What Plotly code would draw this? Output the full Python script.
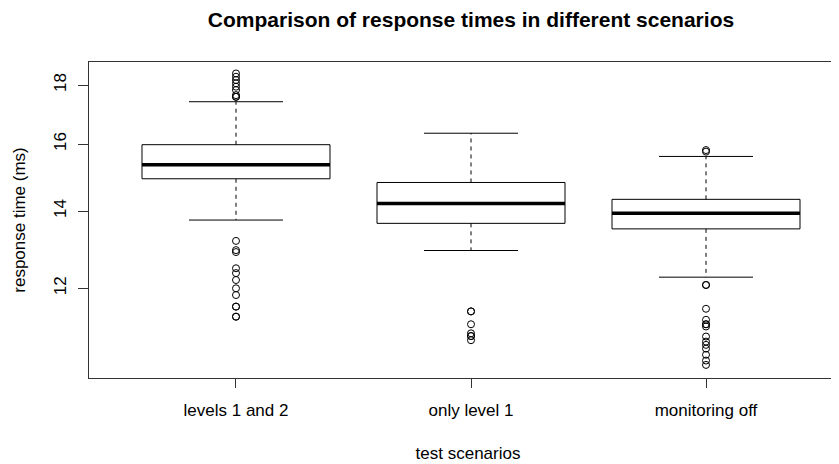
import plotly.graph_objects as go

# ---- data ----
categories = ["levels 1 and 2", "only level 1", "monitoring off"]
q1 = [14.93, 13.66, 13.51]
median = [15.35, 14.21, 13.94]
q3 = [15.98, 14.82, 14.33]
lower_whisker = [13.75, 12.94, 12.27]
upper_whisker = [17.41, 16.35, 15.61]
outliers_levels12 = [18.42, 18.30, 18.18, 18.06, 17.94, 17.82, 17.64, 17.58, 17.58,
                     13.19, 12.95, 12.90, 12.49, 12.37, 12.20, 12.00, 11.84,
                     11.57, 11.57, 11.34, 11.34]
outliers_level1 = [11.46, 11.46, 11.17, 10.97, 10.91, 10.91, 10.82]
outliers_off = [15.81, 15.76, 12.08, 12.08, 11.52, 11.27, 11.17, 11.17, 11.12,
                10.90, 10.79, 10.72, 10.64, 10.51, 10.39, 10.30]
outliers = [outliers_levels12, outliers_level1, outliers_off]
y_ticks = [12, 14, 16, 18]

BOX_HALF = 0.4     # R boxwex 0.8
STAPLE_HALF = 0.2  # staple = half box width
FONT = "Liberation Sans, Arial, sans-serif"

fig = go.Figure()
for i, cat in enumerate(categories):
    x = i + 1
    # box rectangle
    fig.add_trace(go.Scatter(
        x=[x - BOX_HALF, x + BOX_HALF, x + BOX_HALF, x - BOX_HALF, x - BOX_HALF],
        y=[q1[i], q1[i], q3[i], q3[i], q1[i]],
        mode="lines", line=dict(color="black", width=1),
        fill="toself", fillcolor="white", hoverinfo="skip", showlegend=False))
    # median
    fig.add_trace(go.Scatter(
        x=[x - BOX_HALF, x + BOX_HALF], y=[median[i], median[i]],
        mode="lines", line=dict(color="black", width=3.5), showlegend=False))
    # whiskers (dashed)
    fig.add_trace(go.Scatter(
        x=[x, x, None, x, x],
        y=[q3[i], upper_whisker[i], None, q1[i], lower_whisker[i]],
        mode="lines", line=dict(color="black", width=1, dash="4px,4px"),
        showlegend=False))
    # staples
    fig.add_trace(go.Scatter(
        x=[x - STAPLE_HALF, x + STAPLE_HALF, None, x - STAPLE_HALF, x + STAPLE_HALF],
        y=[upper_whisker[i], upper_whisker[i], None, lower_whisker[i], lower_whisker[i]],
        mode="lines", line=dict(color="black", width=1), showlegend=False))
    # outliers
    fig.add_trace(go.Scatter(
        x=[x] * len(outliers[i]), y=outliers[i], mode="markers",
        marker=dict(symbol="circle-open", size=7, color="black", line=dict(width=1)),
        showlegend=False))

fig.update_layout(
    width=839, height=464,
    margin=dict(l=81, r=0, t=54, b=94, autoexpand=False),
    paper_bgcolor="white", plot_bgcolor="white",
    font=dict(family=FONT, size=17, color="black"),
    title=dict(text="<b>Comparison of response times in different scenarios</b>",
               x=463 / 839, xref="container", xanchor="center",
               y=1 - 12 / 464, yref="container", yanchor="middle",
               font=dict(family=FONT, size=21, color="black"),
               automargin=False),
    xaxis=dict(range=[0.3745, 3.6], tickvals=[1, 2, 3], ticktext=categories,
               ticks="outside", ticklen=9, tickcolor="#333", showgrid=False,
               zeroline=False, showline=True, linecolor="#333", linewidth=1,
               mirror=True, ticklabelstandoff=8, automargin=False,
               title=dict(text="test scenarios", standoff=27,
                          font=dict(size=17))),
    yaxis=dict(type="log", range=[1.0015, 1.2752], tickvals=y_ticks,
               ticktext=[str(t) for t in y_ticks], tickangle=-90,
               ticks="outside", ticklen=10, tickcolor="#333", showgrid=False,
               zeroline=False, showline=True, linecolor="#333", linewidth=1,
               ticklabelstandoff=5, automargin=False,
               title=dict(text="response time (ms)", standoff=21,
                          font=dict(size=17))),
)

fig.write_html("out.html")
